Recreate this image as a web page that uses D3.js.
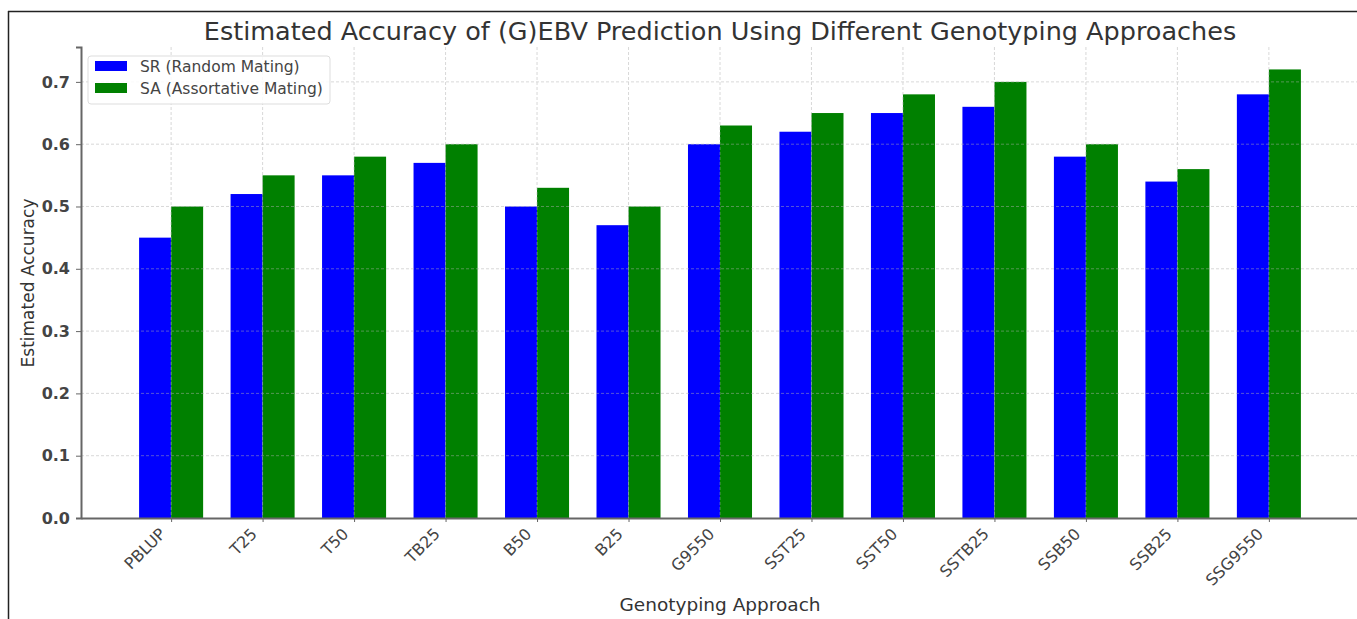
<!DOCTYPE html>
<html>
  <head>
    <meta charset="utf-8" />
    <title>Estimated Accuracy of (G)EBV Prediction</title>
    <script src="https://cdnjs.cloudflare.com/ajax/libs/d3/7.8.5/d3.min.js"></script>
    <style>
      body { margin: 0; background: #fff; }
      text { font-family: "DejaVu Sans", sans-serif; }
    </style>
  </head>
  <body>
    <div id="chart"></div>
    <script>
      // genotyping approaches on the x axis
      const approaches = ["PBLUP", "T25", "T50", "TB25", "B50", "B25", "G9550",
        "SST25", "SST50", "SSTB25", "SSB50", "SSB25", "SSG9550"];
      // SR = random mating, SA = assortative mating
      const srValues = [0.45, 0.52, 0.55, 0.57, 0.50, 0.47, 0.60, 0.62, 0.65, 0.66, 0.58, 0.54, 0.68];
      const saValues = [0.50, 0.55, 0.58, 0.60, 0.53, 0.50, 0.63, 0.65, 0.68, 0.70, 0.60, 0.56, 0.72];
      const yTicks = [0.0, 0.1, 0.2, 0.3, 0.4, 0.5, 0.6, 0.7];
      const seriesNames = ["SR (Random Mating)", "SA (Assortative Mating)"];
      const seriesColors = ["#0000ff", "#008000"];

      const width = 1357, height = 619;
      const plotLeft = 81, plotRight = 1359, plotTop = 47, plotBottom = 518;
      const barW = 0.35;

      const svg = d3.select("#chart").append("svg")
        .attr("width", width)
        .attr("height", height);

      // outer frame (only top and left visible in the picture)
      svg.append("line").attr("x1", 8).attr("x2", width).attr("y1", 11.5).attr("y2", 11.5)
        .attr("stroke", "#222").attr("stroke-width", 1.5);
      svg.append("line").attr("x1", 8.5).attr("x2", 8.5).attr("y1", 11).attr("y2", height)
        .attr("stroke", "#222").attr("stroke-width", 1.5);

      // linear x like matplotlib, bars centred on integer positions
      const n = approaches.length;
      const pad = (n - 1 + 2 * barW) * 0.05;
      const x = d3.scaleLinear()
        .domain([-barW - pad, n - 1 + barW + pad])
        .range([plotLeft, plotRight]);

      const yMax = d3.max(saValues.concat(srValues)) * 1.05;
      const y = d3.scaleLinear().domain([0, yMax]).range([plotBottom, plotTop]);

      // bars
      const series = [srValues, saValues];
      series.forEach((vals, s) => {
        svg.append("g").selectAll("rect")
          .data(vals)
          .join("rect")
          .attr("x", (d, i) => x(i + (s === 0 ? -barW : 0)))
          .attr("width", x(barW) - x(0))
          .attr("y", d => y(d))
          .attr("height", d => y(0) - y(d))
          .attr("fill", seriesColors[s]);
      });

      // grid on top, light and dashed
      const grid = svg.append("g").attr("stroke", "#b0b0b0")
        .attr("stroke-dasharray", "3,2").attr("stroke-width", 0.8).attr("opacity", 0.6);
      grid.selectAll(".hg").data(yTicks.slice(1)).join("line")
        .attr("x1", plotLeft).attr("x2", plotRight)
        .attr("y1", d => y(d)).attr("y2", d => y(d));
      grid.selectAll(".vg").data(approaches).join("line")
        .attr("x1", (d, i) => x(i)).attr("x2", (d, i) => x(i))
        .attr("y1", plotTop).attr("y2", plotBottom);

      // y axis
      const yAxis = svg.append("g")
        .attr("transform", `translate(${plotLeft},0)`)
        .call(d3.axisLeft(y).tickValues(yTicks).tickFormat(d3.format(".1f")).tickSize(5).tickPadding(6));
      yAxis.select(".domain").attr("stroke", "#666").attr("stroke-width", 2);
      yAxis.selectAll(".tick line").attr("stroke", "#666");
      yAxis.selectAll(".tick text").attr("font-size", 16).attr("fill", "#444")
        .attr("font-weight", "bold").style("font-family", "DejaVu Sans");

      // x axis, labels turned 45 degrees
      const xAxis = svg.append("g")
        .attr("transform", `translate(0,${plotBottom})`)
        .call(d3.axisBottom(x).tickValues(d3.range(n)).tickFormat(i => approaches[i]).tickSize(4).tickSizeOuter(0));
      xAxis.select(".domain").attr("stroke", "#666").attr("stroke-width", 2);
      xAxis.selectAll(".tick line").attr("stroke", "#666");
      xAxis.selectAll(".tick text")
        .attr("font-size", 16).attr("fill", "#444").style("font-family", "DejaVu Sans")
        .attr("text-anchor", "end")
        .attr("transform", "translate(-13,9) rotate(-45)")
        .attr("x", 0).attr("y", 0).attr("dy", "0.7em");

      // title and axis labels
      svg.append("text").attr("x", (plotLeft + plotRight) / 2).attr("y", 40)
        .attr("text-anchor", "middle").attr("font-size", 25.5).attr("fill", "#333")
        .text("Estimated Accuracy of (G)EBV Prediction Using Different Genotyping Approaches");
      svg.append("text").attr("x", (plotLeft + plotRight) / 2).attr("y", 611)
        .attr("text-anchor", "middle").attr("font-size", 18.5).attr("fill", "#333")
        .text("Genotyping Approach");
      svg.append("text")
        .attr("transform", `translate(34,283) rotate(-90)`)
        .attr("text-anchor", "middle").attr("font-size", 17).attr("fill", "#333")
        .text("Estimated Accuracy");

      // legend
      const lg = svg.append("g").attr("transform", "translate(88,56)");
      lg.append("rect").attr("width", 242).attr("height", 48).attr("rx", 3)
        .attr("fill", "#fff").attr("fill-opacity", 0.85).attr("stroke", "#ddd");
      seriesNames.forEach((name, i) => {
        lg.append("rect").attr("x", 7).attr("y", 5 + i * 22).attr("width", 32).attr("height", 10)
          .attr("fill", seriesColors[i]);
        lg.append("text").attr("x", 52).attr("y", 16 + i * 22)
          .attr("font-size", 15.5).attr("fill", "#444").text(name);
      });
    </script>
  </body>
</html>
